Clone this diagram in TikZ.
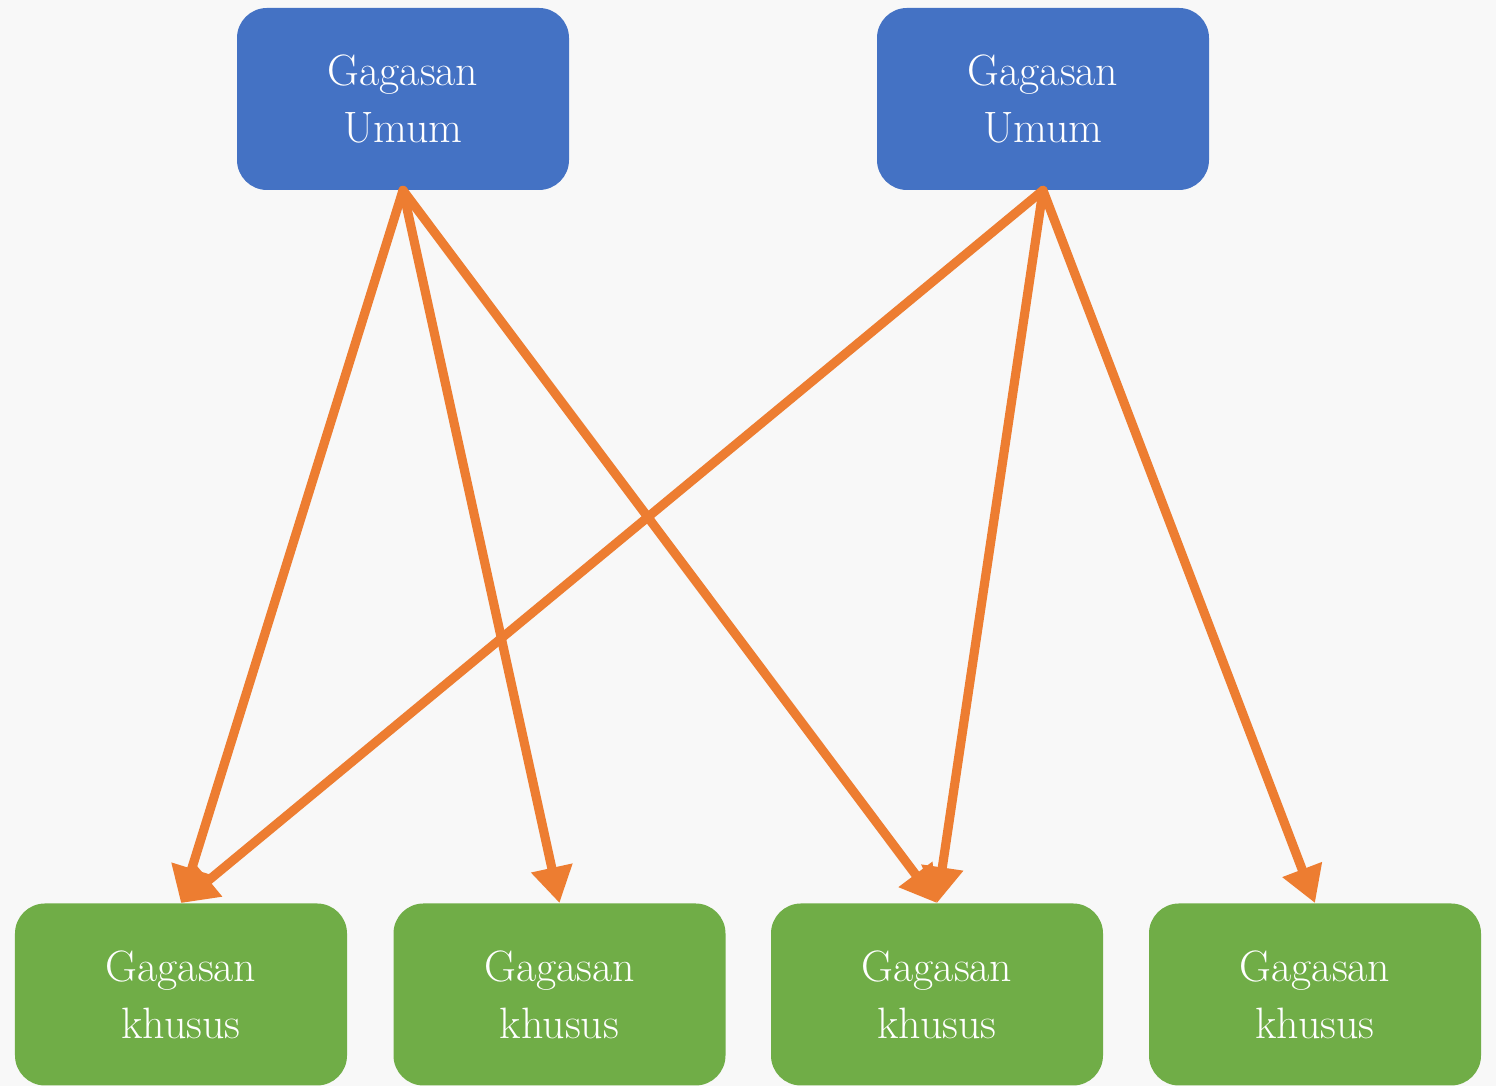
\documentclass[tikz,border=0pt]{standalone}
\usetikzlibrary{arrows.meta}

\definecolor{ideablue}{HTML}{4472C4}
\definecolor{ideagreen}{HTML}{70AD47}
\definecolor{arroworange}{HTML}{ED7D31}
\definecolor{bggray}{HTML}{F8F8F8}

\tikzset{
    idea/.style={rounded corners=0.6cm, minimum width=6.64cm, minimum height=3.64cm,
        align=center, text=white, font=\fontsize{25}{32.4}\selectfont, inner sep=0pt},
    umum/.style={idea, fill=ideablue},
    khusus/.style={idea, fill=ideagreen},
    arr/.style={draw=arroworange, line width=5.2pt, line cap=round,
        -{Triangle[length=0.72cm, width=0.8cm]}}
}

\begin{document}
\begin{tikzpicture}[line join=round, x=1cm, y=1cm]
                \useasboundingbox (0, 0) rectangle (29.92, 21.72);
                \fill[bggray] (0, 0) rectangle (29.92, 21.72);

                % General ideas
                \node[umum] (u1) at (8.06, 19.74) {Gagasan\\Umum};
                \node[umum] (u2) at (20.86, 19.74) {Gagasan\\Umum};

                % Specific ideas
                \node[khusus] (k1) at (3.62, 1.83) {Gagasan\\khusus};
                \node[khusus] (k2) at (11.19, 1.83) {Gagasan\\khusus};
                \node[khusus] (k3) at (18.74, 1.83) {Gagasan\\khusus};
                \node[khusus] (k4) at (26.30, 1.83) {Gagasan\\khusus};

                % Arrows
                \draw[arr] (u1.south) -- (k1.north);
                \draw[arr] (u1.south) -- (k2.north);
                \draw[arr] (u1.south) -- (k3.north);
                \draw[arr] (u2.south) -- (k1.north);
                \draw[arr] (u2.south) -- (k3.north);
                \draw[arr] (u2.south) -- (k4.north);
            \end{tikzpicture}
\end{document}
